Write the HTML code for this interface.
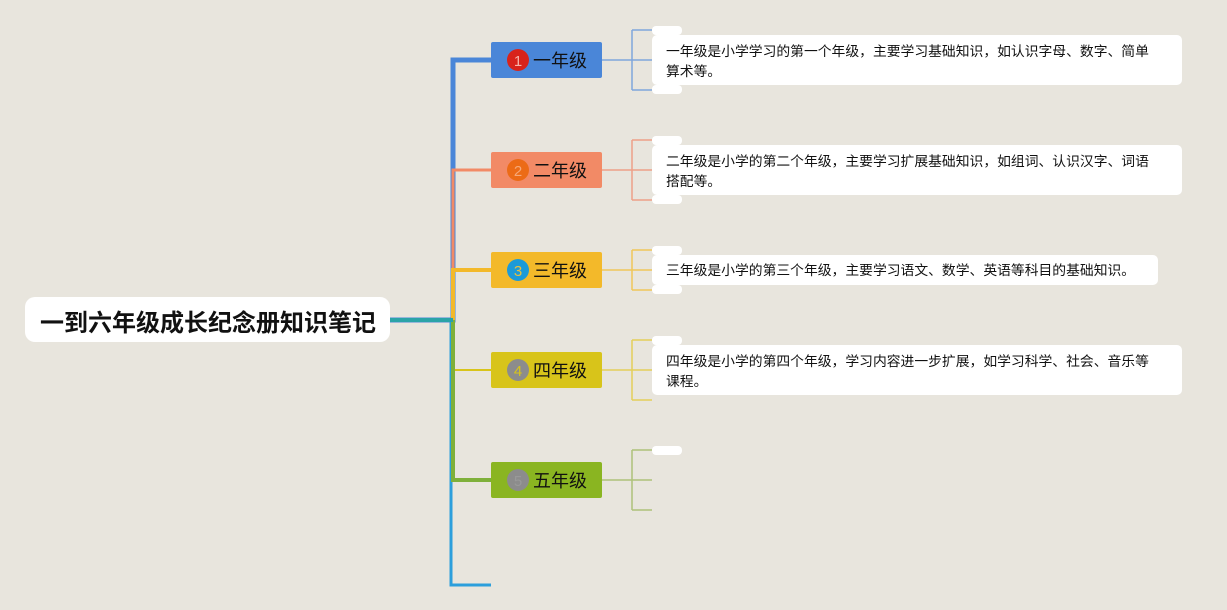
<!DOCTYPE html>
<html><head><meta charset="utf-8"><style>
html,body{margin:0;padding:0;background:#e8e5dd;}
svg{display:block;font-family:"Liberation Sans","Noto Sans CJK SC",sans-serif;}
</style></head><body>
<svg width="1227" height="610" viewBox="0 0 1227 610" xmlns="http://www.w3.org/2000/svg">
<rect width="1227" height="610" fill="#e8e5dd"/>
<polyline points="390,320 453,320 453,60 491,60" fill="none" stroke="#4a86d8" stroke-width="5"/>
<polyline points="453,320 453,170 491,170" fill="none" stroke="#f28a66" stroke-width="3"/>
<polyline points="453,320 453,270 491,270" fill="none" stroke="#f3b92a" stroke-width="4"/>
<polyline points="453,320 453,370 491,370" fill="none" stroke="#d8c41a" stroke-width="2"/>
<polyline points="451,320 451,585 491,585" fill="none" stroke="#2c9fdc" stroke-width="3"/>
<polyline points="453,320 453,480 491,480" fill="none" stroke="#7fb03a" stroke-width="4"/>
<polyline points="390,320 453,320" fill="none" stroke="#2aa3a8" stroke-width="4"/>
<rect x="25" y="297" width="365" height="45" rx="10" fill="#fff"/>
<text x="208" y="331" text-anchor="middle" font-size="24" font-weight="bold" fill="#111">一到六年级成长纪念册知识笔记</text>

<g font-size="18" fill="#111">
<rect x="491" y="42" width="111" height="36" rx="2" fill="#4a86d8"/>
<circle cx="518" cy="60" r="11" fill="#d8231b"/><text x="518" y="66" font-size="15" text-anchor="middle" fill="#f6b2a8">1</text>
<text x="533" y="67">一年级</text>
<rect x="491" y="152" width="111" height="36" rx="2" fill="#f28a66"/>
<circle cx="518" cy="170" r="11" fill="#ec6b16"/><text x="518" y="176" font-size="15" text-anchor="middle" fill="#f6a878">2</text>
<text x="533" y="177">二年级</text>
<rect x="491" y="252" width="111" height="36" rx="2" fill="#f3b92a"/>
<circle cx="518" cy="270" r="11" fill="#1c9ad8"/><text x="518" y="276" font-size="15" text-anchor="middle" fill="#e8c040">3</text>
<text x="533" y="277">三年级</text>
<rect x="491" y="352" width="111" height="36" rx="2" fill="#d8c41a"/>
<circle cx="518" cy="370" r="11" fill="#8c8c8c"/><text x="518" y="376" font-size="15" text-anchor="middle" fill="#d8c41a">4</text>
<text x="533" y="377">四年级</text>
<rect x="491" y="462" width="111" height="36" rx="2" fill="#8ab521"/>
<circle cx="518" cy="480" r="11" fill="#8c8c8c"/><text x="518" y="486" font-size="15" text-anchor="middle" fill="#999">5</text>
<text x="533" y="487">五年级</text>
</g>

<g fill="none" stroke-width="1.5">
<path d="M602 60H632M632 30V90M632 30H652M632 60H652M632 90H652" stroke="#7fa6dc"/>
<path d="M602 170H632M632 140V200M632 140H652M632 170H652M632 200H652" stroke="#eea088"/>
<path d="M602 270H632M632 250V290M632 250H652M632 270H652M632 290H652" stroke="#efc65a"/>
<path d="M602 370H632M632 340V400M632 340H652M632 370H652M632 400H652" stroke="#e4cf5a"/>
<path d="M602 480H632M632 450V510M632 450H652M632 480H652M632 510H652" stroke="#aec27a"/>
</g>
<g fill="#fff">
<rect x="652" y="26" width="30" height="9" rx="4"/><rect x="652" y="85" width="30" height="9" rx="4"/>
<rect x="652" y="136" width="30" height="9" rx="4"/><rect x="652" y="195" width="30" height="9" rx="4"/>
<rect x="652" y="246" width="30" height="9" rx="4"/><rect x="652" y="285" width="30" height="9" rx="4"/>
<rect x="652" y="336" width="30" height="9" rx="4"/>
<rect x="652" y="446" width="30" height="9" rx="4"/>
<rect x="652" y="35" width="530" height="50" rx="5"/>
<rect x="652" y="145" width="530" height="50" rx="5"/>
<rect x="652" y="255" width="506" height="30" rx="5"/>
<rect x="652" y="345" width="530" height="50" rx="5"/>
</g>
<g font-size="13.8" fill="#111">
<text x="666" y="56">一年级是小学学习的第一个年级，主要学习基础知识，如认识字母、数字、简单</text>
<text x="666" y="76">算术等。</text>
<text x="666" y="166">二年级是小学的第二个年级，主要学习扩展基础知识，如组词、认识汉字、词语</text>
<text x="666" y="186">搭配等。</text>
<text x="666" y="275">三年级是小学的第三个年级，主要学习语文、数学、英语等科目的基础知识。</text>
<text x="666" y="366">四年级是小学的第四个年级，学习内容进一步扩展，如学习科学、社会、音乐等</text>
<text x="666" y="386">课程。</text>
</g>
</svg>
</body></html>
